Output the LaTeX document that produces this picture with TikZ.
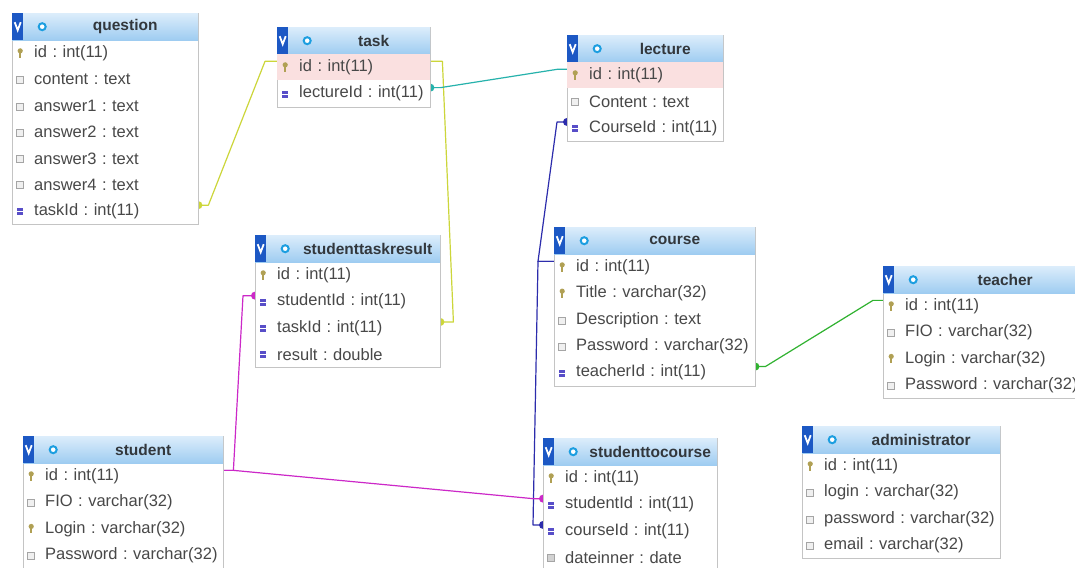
\documentclass[tikz,border=0pt]{standalone}
\usepackage{fontspec}
\setmainfont{Liberation Sans}
\usetikzlibrary{calc,backgrounds}
\frenchspacing
\definecolor{boxgray}{RGB}{196,196,196}
\definecolor{headtop}{RGB}{220,237,251}
\definecolor{headbot}{RGB}{158,204,241}
\definecolor{vblue}{RGB}{28,88,196}
\definecolor{ringcyan}{RGB}{28,158,224}
\definecolor{titletext}{RGB}{50,55,60}
\definecolor{coltext}{RGB}{72,72,72}
\definecolor{keygold}{RGB}{176,160,84}
\definecolor{idxblue}{RGB}{88,78,200}
\definecolor{plaingray}{RGB}{165,165,165}
\definecolor{pinkrow}{RGB}{250,224,224}
\definecolor{relyellow}{RGB}{204,214,58}
\definecolor{relteal}{RGB}{38,178,172}
\definecolor{relblue}{RGB}{44,44,172}
\definecolor{relmagenta}{RGB}{204,40,200}
\definecolor{relgreen}{RGB}{48,178,48}
\newcommand{\colfont}{\fontsize{16.5}{19}\selectfont}
\newcommand{\titlefont}{\fontsize{15.5}{19}\selectfont\bfseries}
\tikzset{
  tblbox/.style={draw=boxgray, line width=1, fill=white, anchor=north west, inner sep=0},
  tblhead/.style={anchor=north west, inner sep=0, minimum height=27, top color=headtop, bottom color=headbot,
    path picture={
      \fill[vblue] (path picture bounding box.north west) rectangle ([xshift=11]path picture bounding box.south west);
      \draw[white, line width=1.8] ([xshift=2.5,yshift=-9]path picture bounding box.north west) -- ++(3,-8) -- ++(3,8);
      \draw[ringcyan, line width=2, fill=white] ([xshift=30,yshift=-13.5]path picture bounding box.north west) circle[radius=3.5];
    }},
  tbltitle/.style={font=\titlefont, text=titletext, inner sep=0},
  colrow/.style={anchor=north west, inner sep=0, minimum height=26.3, align=left, font=\colfont, text=coltext,
    execute at begin node=\hspace*{22pt}},
  pkcol/.style={path picture={
      \fill[keygold] ([xshift=8,yshift=2.5]path picture bounding box.west) circle[radius=2.6];
      \fill[keygold] ([xshift=7,yshift=-4.5]path picture bounding box.west) rectangle ++(2.2,7);}},
  pkhl/.style={pkcol, fill=pinkrow},
  idxcol/.style={path picture={
      \fill[idxblue] ([xshift=5,yshift=-4]path picture bounding box.west) rectangle ++(6,7);
      \draw[white, line width=0.6] ([xshift=5,yshift=-0.5]path picture bounding box.west) -- ++(6,0);}},
  plaincol/.style={path picture={
      \draw[plaingray, fill=gray!12, line width=0.8] ([xshift=4.5,yshift=-4]path picture bounding box.west) rectangle ++(7,7);}},
  datecol/.style={path picture={
      \draw[plaingray, fill=gray!35, line width=0.8] ([xshift=4.5,yshift=-4]path picture bounding box.west) rectangle ++(7,7);}},
  rel/.style={line width=1.2, line join=round}
}
\begin{document}
\begin{tikzpicture}[x=1pt,y=1pt]
\useasboundingbox (0,0) rectangle (1075,-567);
\clip (0,0) rectangle (1075,-567);

\node[tblbox, minimum width=186, minimum height=211.1] (question) at (12,-13) {};
\node[tblhead, minimum width=186] (question-head) at (12,-13) {};
\node[tbltitle] (question-title) at ([xshift=20]question-head.center) {question};
\foreach \col/\txt/\kind [count=\i] in {id/{id : int(11)}/pkcol, content/{content : text}/plaincol,
    answer1/{answer1 : text}/plaincol, answer2/{answer2 : text}/plaincol, answer3/{answer3 : text}/plaincol,
    answer4/{answer4 : text}/plaincol, taskId/{taskId : int(11)}/idxcol}
  \node[colrow, \kind, text width=186pt] (question-\col) at (12,{-40-26.3*(\i-1)}) {\mbox{\txt}};

\node[tblbox, minimum width=153, minimum height=79.6] (task) at (277,-27) {};
\node[tblhead, minimum width=153] (task-head) at (277,-27) {};
\node[tbltitle] (task-title) at ([xshift=20]task-head.center) {task};
\foreach \col/\txt/\kind [count=\i] in {id/{id : int(11)}/pkhl, lectureId/{lectureId : int(11)}/idxcol}
  \node[colrow, \kind, text width=153pt] (task-\col) at (277,{-54-26.3*(\i-1)}) {\mbox{\txt}};

\node[tblbox, minimum width=156, minimum height=105.9] (lecture) at (567,-35) {};
\node[tblhead, minimum width=156] (lecture-head) at (567,-35) {};
\node[tbltitle] (lecture-title) at ([xshift=20]lecture-head.center) {lecture};
\foreach \col/\txt/\kind [count=\i] in {id/{id : int(11)}/pkhl, Content/{Content : text}/plaincol,
    CourseId/{CourseId : int(11)}/idxcol}
  \node[colrow, \kind, text width=156pt] (lecture-\col) at (567,{-62-26.3*(\i-1)}) {\mbox{\txt}};

\node[tblbox, minimum width=185, minimum height=132.2] (studenttaskresult) at (255,-235) {};
\node[tblhead, minimum width=185] (studenttaskresult-head) at (255,-235) {};
\node[tbltitle] (studenttaskresult-title) at ([xshift=20]studenttaskresult-head.center) {studenttaskresult};
\foreach \col/\txt/\kind [count=\i] in {id/{id : int(11)}/pkcol, studentId/{studentId : int(11)}/idxcol,
    taskId/{taskId : int(11)}/idxcol, result/{result : double}/idxcol}
  \node[colrow, \kind, text width=185pt] (studenttaskresult-\col) at (255,{-262-26.3*(\i-1)}) {\mbox{\txt}};

\node[tblbox, minimum width=201, minimum height=158.5] (course) at (554,-227) {};
\node[tblhead, minimum width=201] (course-head) at (554,-227) {};
\node[tbltitle] (course-title) at ([xshift=20]course-head.center) {course};
\foreach \col/\txt/\kind [count=\i] in {id/{id : int(11)}/pkcol, Title/{Title : varchar(32)}/pkcol,
    Description/{Description : text}/plaincol, Password/{Password : varchar(32)}/plaincol,
    teacherId/{teacherId : int(11)}/idxcol}
  \node[colrow, \kind, text width=201pt] (course-\col) at (554,{-254-26.3*(\i-1)}) {\mbox{\txt}};

\node[tblbox, minimum width=204, minimum height=132.2] (teacher) at (883,-266) {};
\node[tblhead, minimum width=204] (teacher-head) at (883,-266) {};
\node[tbltitle] (teacher-title) at ([xshift=20]teacher-head.center) {teacher};
\foreach \col/\txt/\kind [count=\i] in {id/{id : int(11)}/pkcol, FIO/{FIO : varchar(32)}/plaincol,
    Login/{Login : varchar(32)}/pkcol, Password/{Password : varchar(32)}/plaincol}
  \node[colrow, \kind, text width=204pt] (teacher-\col) at (883,{-293-26.3*(\i-1)}) {\mbox{\txt}};

\node[tblbox, minimum width=200, minimum height=132.2] (student) at (23,-436) {};
\node[tblhead, minimum width=200] (student-head) at (23,-436) {};
\node[tbltitle] (student-title) at ([xshift=20]student-head.center) {student};
\foreach \col/\txt/\kind [count=\i] in {id/{id : int(11)}/pkcol, FIO/{FIO : varchar(32)}/plaincol,
    Login/{Login : varchar(32)}/pkcol, Password/{Password : varchar(32)}/plaincol}
  \node[colrow, \kind, text width=200pt] (student-\col) at (23,{-463-26.3*(\i-1)}) {\mbox{\txt}};

\node[tblbox, minimum width=174, minimum height=132.2] (studenttocourse) at (543,-438) {};
\node[tblhead, minimum width=174] (studenttocourse-head) at (543,-438) {};
\node[tbltitle] (studenttocourse-title) at ([xshift=20]studenttocourse-head.center) {studenttocourse};
\foreach \col/\txt/\kind [count=\i] in {id/{id : int(11)}/pkcol, studentId/{studentId : int(11)}/idxcol,
    courseId/{courseId : int(11)}/idxcol, dateinner/{dateinner : date}/datecol}
  \node[colrow, \kind, text width=174pt] (studenttocourse-\col) at (543,{-465-26.3*(\i-1)}) {\mbox{\txt}};

\node[tblbox, minimum width=198, minimum height=132.2] (administrator) at (802,-426) {};
\node[tblhead, minimum width=198] (administrator-head) at (802,-426) {};
\node[tbltitle] (administrator-title) at ([xshift=20]administrator-head.center) {administrator};
\foreach \col/\txt/\kind [count=\i] in {id/{id : int(11)}/pkcol, login/{login : varchar(32)}/plaincol,
    password/{password : varchar(32)}/plaincol, email/{email : varchar(32)}/plaincol}
  \node[colrow, \kind, text width=198pt] (administrator-\col) at (802,{-453-26.3*(\i-1)}) {\mbox{\txt}};

\begin{pgfonlayer}{background}
\fill[white] (0,0) rectangle (1075,-567);
\draw[rel, relyellow] ([yshift=6]question-taskId.east) -- ++(10,0) -- ([xshift=-12,yshift=6]task-id.west) -- ([yshift=6]task-id.west);
\draw[rel, relyellow] ([yshift=6]task-id.east) -- ++(12,0) -- ([xshift=13,yshift=6]studenttaskresult-taskId.east) -- ([yshift=6]studenttaskresult-taskId.east);
\draw[rel, relteal] ([yshift=6]task-lectureId.east) -- ++(10,0) -- ([xshift=-10,yshift=6]lecture-id.west) -- ([yshift=6]lecture-id.west);
\draw[rel, relblue] ([yshift=6]course-id.west) -- ++(-16,0) -- ([xshift=-10,yshift=6]lecture-CourseId.west) -- ([yshift=6]lecture-CourseId.west);
\draw[rel, relblue] ([yshift=6]course-id.west) -- ++(-16,0) -- ([xshift=-10,yshift=6]studenttocourse-courseId.west) -- ([yshift=6]studenttocourse-courseId.west);
\draw[rel, relmagenta] ([yshift=6]student-id.east) -- ++(10,0) -- ([xshift=-12,yshift=6]studenttaskresult-studentId.west) -- ([yshift=6]studenttaskresult-studentId.west);
\draw[rel, relmagenta] ([yshift=6]student-id.east) -- ++(10,0) -- ([xshift=-10,yshift=6]studenttocourse-studentId.west) -- ([yshift=6]studenttocourse-studentId.west);
\draw[rel, relgreen] ([yshift=6]course-teacherId.east) -- ++(10,0) -- ([xshift=-10,yshift=6]teacher-id.west) -- ([yshift=6]teacher-id.west);
\fill[relyellow] ([yshift=6]question-taskId.east) circle[radius=4];
\fill[relyellow] ([yshift=6]studenttaskresult-taskId.east) circle[radius=4];
\fill[relteal] ([yshift=6]task-lectureId.east) circle[radius=4];
\fill[relblue] ([yshift=6]lecture-CourseId.west) circle[radius=4];
\fill[relblue] ([yshift=6]studenttocourse-courseId.west) circle[radius=4];
\fill[relmagenta] ([yshift=6]studenttaskresult-studentId.west) circle[radius=4];
\fill[relmagenta] ([yshift=6]studenttocourse-studentId.west) circle[radius=4];
\fill[relgreen] ([yshift=6]course-teacherId.east) circle[radius=4];
\end{pgfonlayer}
\end{tikzpicture}
\end{document}
